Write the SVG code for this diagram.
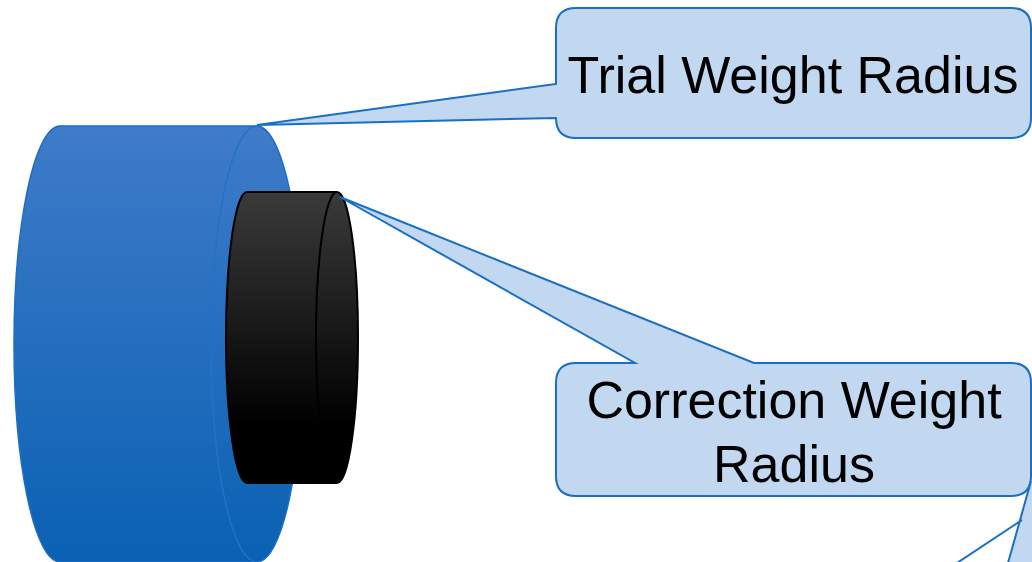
<svg xmlns="http://www.w3.org/2000/svg" width="1032" height="562" viewBox="0 0 1032 562">
  <defs>
    <linearGradient id="blueBody" x1="0" y1="0" x2="0" y2="1">
      <stop offset="0" stop-color="#3f7bc9"/>
      <stop offset="1" stop-color="#0a61b3"/>
    </linearGradient>
    <linearGradient id="darkBody" x1="0" y1="0" x2="0" y2="1">
      <stop offset="0" stop-color="#3a3a3a"/>
      <stop offset="0.8" stop-color="#000000"/>
      <stop offset="1" stop-color="#000000"/>
    </linearGradient>
    <style>
      .callout { fill: #c2d8f1; stroke: #1a6fc5; stroke-width: 2; stroke-linejoin: miter; }
      .edge { fill: none; stroke: #1a6fc5; stroke-width: 2; }
      .label { font-family: "Liberation Sans", Arial, sans-serif; font-size: 52px; fill: #000; text-anchor: middle; }
    </style>
  </defs>

  <!-- large blue cylinder (rotor) -->
  <g id="rotor">
    <path d="M60,126 L257,126 A46,218 0 0 1 257,562 L60,562 A46,218 0 0 1 60,126 Z"
          fill="url(#blueBody)" stroke="#1a6fc5" stroke-width="1.5"/>
    <path d="M257,126 A46,218 0 0 0 257,562" fill="none" stroke="#2272c9" stroke-width="1.5"/>
  </g>

  <!-- small black cylinder (weight) -->
  <g id="weight">
    <path d="M247,192 L337,192 A21,145.5 0 0 1 337,483 L247,483 A21,145.5 0 0 1 247,192 Z"
          fill="url(#darkBody)" stroke="#000" stroke-width="2"/>
    <path d="M337,192 A21,145.5 0 0 0 337,483" fill="none" stroke="#000" stroke-width="2"/>
  </g>

  <!-- callout: trial weight radius -->
  <g id="callout-trial">
    <path class="callout" d="M576,8 L1011,8 Q1031,8 1031,28 L1031,118 Q1031,138 1011,138 L576,138 Q556,138 556,118 L556,118 L257,125 L556,84 L556,28 Q556,8 576,8 Z"/>
    <text class="label" x="793" y="93">Trial Weight Radius</text>
  </g>

  <!-- callout: correction weight radius -->
  <g id="callout-correction">
    <path class="callout" d="M576,363 L635,363 L340,197 L754,363 L1011,363 Q1031,363 1031,383 L1031,476 Q1031,496 1011,496 L576,496 Q556,496 556,476 L556,383 Q556,363 576,363 Z"/>
    <text class="label" x="794" y="418">Correction Weight</text>
    <text class="label" x="794" y="482">Radius</text>
  </g>

  <!-- connector edges at lower right -->
  <g id="connectors">
    <polygon points="1031,481 1008,562 1032,562 1032,481" fill="#c2d8f1"/>
    <line class="edge" x1="1031" y1="481" x2="1008" y2="563"/>
    <line class="edge" x1="1022" y1="520" x2="957" y2="563"/>
  </g>
</svg>
